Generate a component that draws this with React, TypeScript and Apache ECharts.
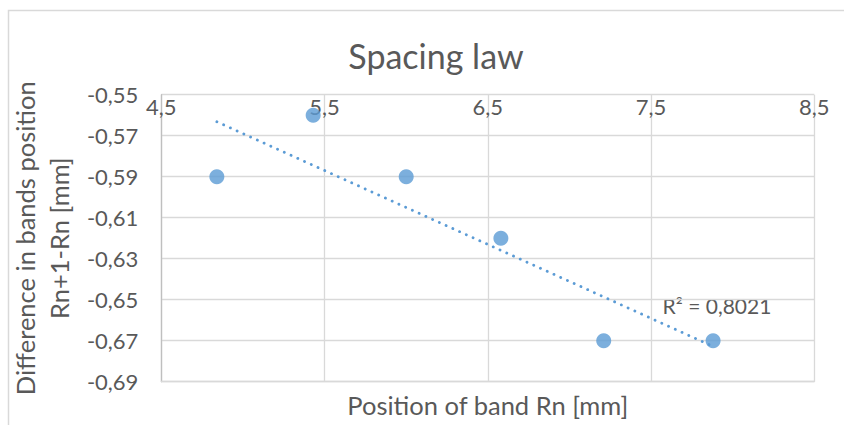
import React, { useEffect, useRef } from "react";
import * as echarts from "echarts";

// Data
const positionRn = [4.84, 5.43, 6.0, 6.58, 7.21, 7.88];
const differenceRn = [-0.59, -0.56, -0.59, -0.62, -0.67, -0.67];

// Axis ranges / ticks
const xAxisMin = 4.5;
const xAxisMax = 8.5;
const xAxisStep = 1;
const yAxisMin = -0.69;
const yAxisMax = -0.55;
const yAxisStep = 0.02;

// Texts
const titleText = "Spacing law";
const xAxisName = "Position of band Rn [mm]";
const yAxisName = "Difference in bands position\nRn+1-Rn [mm]";
const r2Label = "R² = 0,8021";

const FONT = "Lato";
const TEXT_COLOR = "#595959";
const BLUE = "#5B9BD5";

function fmt(v: number, digits: number): string {
  return v.toFixed(digits).replace(".", ",");
}

function linearFit(xs: number[], ys: number[]) {
  const n = xs.length;
  const mx = xs.reduce((a, b) => a + b, 0) / n;
  const my = ys.reduce((a, b) => a + b, 0) / n;
  let sxy = 0;
  let sxx = 0;
  for (let i = 0; i < n; i++) {
    sxy += (xs[i] - mx) * (ys[i] - my);
    sxx += (xs[i] - mx) * (xs[i] - mx);
  }
  const slope = sxy / sxx;
  const intercept = my - slope * mx;
  return { slope, intercept };
}

export default function App() {
  const ref = useRef<HTMLDivElement>(null);

  useEffect(() => {
    if (!ref.current) return;
    const chart = echarts.init(ref.current, undefined, { renderer: "svg" });

    // Offsets so that each axis' min is a multiple of its interval
    const xs = positionRn.map((x) => x - xAxisMin);
    const ys = differenceRn.map((y) => y - yAxisMin);
    const points = xs.map((x, i) => [x, ys[i]]);

    const fit = linearFit(positionRn, differenceRn);
    const x0 = Math.min(...positionRn);
    const x1 = Math.max(...positionRn);
    const trend = [
      [x0 - xAxisMin, fit.slope * x0 + fit.intercept - yAxisMin],
      [x1 - xAxisMin, fit.slope * x1 + fit.intercept - yAxisMin],
    ];

    const option: any = {
      animation: false,
      backgroundColor: "#ffffff",
      textStyle: { fontFamily: FONT },
      title: {
        text: titleText,
        left: 431,
        top: 33,
        textAlign: "center",
        textStyle: {
          fontFamily: FONT,
          fontSize: 34,
          fontWeight: "normal",
          color: TEXT_COLOR,
        },
      },
      grid: {
        left: 153.5,
        right: 29.7,
        top: 94.7,
        bottom: 43.3,
        containLabel: false,
      },
      xAxis: [
        {
          type: "value",
          position: "top",
          min: 0,
          max: xAxisMax - xAxisMin,
          interval: xAxisStep,
          axisLine: { show: false },
          axisTick: { show: false },
          axisLabel: {
            inside: true,
            margin: 1,
            fontSize: 22,
            fontFamily: FONT,
            color: TEXT_COLOR,
            formatter: (v: number) => fmt(v + xAxisMin, 1),
          },
          splitLine: { show: true, lineStyle: { color: "#d9d9d9", width: 1.3 } },
        },
        {
          type: "value",
          position: "bottom",
          min: 0,
          max: xAxisMax - xAxisMin,
          interval: xAxisStep,
          axisLine: { show: true, lineStyle: { color: "#d9d9d9", width: 1.3 } },
          axisTick: { show: false },
          axisLabel: { show: false },
          splitLine: { show: false },
          name: xAxisName,
          nameLocation: "middle",
          nameGap: 10,
          nameTextStyle: { fontSize: 25.5, fontFamily: FONT, color: TEXT_COLOR },
        },
      ],
      yAxis: {
        type: "value",
        min: 0,
        max: yAxisMax - yAxisMin,
        interval: yAxisStep,
        axisLine: { show: true, lineStyle: { color: "#bfbfbf", width: 1.3 } },
        axisTick: { show: false },
        axisLabel: {
          margin: 23,
          fontSize: 22,
          fontFamily: FONT,
          color: TEXT_COLOR,
          formatter: (v: number) => fmt(v + yAxisMin, 2),
        },
        splitLine: { show: true, lineStyle: { color: "#d9d9d9", width: 1.3 } },
        name: yAxisName,
        nameLocation: "middle",
        nameGap: 73,
        nameRotate: 90,
        nameTextStyle: {
          fontSize: 25.5,
          fontFamily: FONT,
          color: TEXT_COLOR,
          lineHeight: 34,
          align: "center",
        },
      },
      graphic: [
        {
          type: "rect",
          silent: true,
          z: -10,
          shape: { x: 8.5, y: 10.5, width: 900, height: 500 },
          style: { fill: "none", stroke: "#d9d9d9", lineWidth: 1.5 },
        },
        {
          type: "text",
          x: 717,
          y: 305,
          style: {
            text: r2Label,
            font: `21px ${FONT}`,
            fill: TEXT_COLOR,
            textAlign: "center",
            textVerticalAlign: "middle",
          },
        },
      ],
      series: [
        {
          type: "line",
          data: trend,
          showSymbol: false,
          symbol: "none",
          silent: true,
          lineStyle: {
            color: BLUE,
            width: 2.8,
            type: [0.1, 7.3],
            cap: "round",
          },
          z: 2,
        },
        {
          type: "scatter",
          data: points,
          symbol: "circle",
          symbolSize: 15,
          itemStyle: { color: BLUE },
          z: 3,
        },
      ],
    };

    chart.setOption(option);
    return () => chart.dispose();
  }, []);

  return (
    <div
      ref={ref}
      style={{ position: "fixed", left: 0, top: 0, width: 844, height: 425 }}
    />
  );
}
